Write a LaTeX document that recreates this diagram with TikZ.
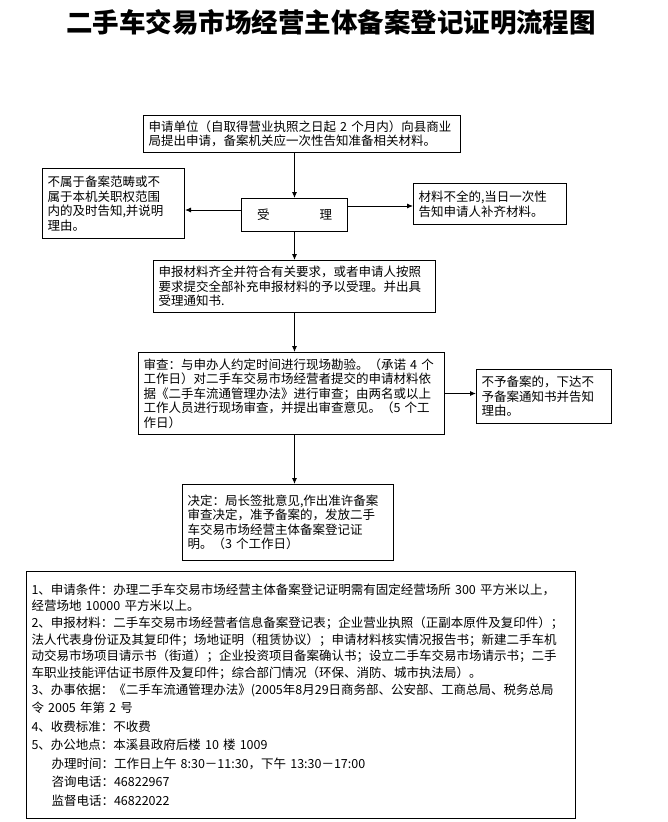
\documentclass[tikz,border=0pt]{standalone}
\usepackage{fontspec}
\setmainfont{Noto Sans CJK SC}
\usetikzlibrary{arrows.meta}

\begin{document}
\begin{tikzpicture}[x=1pt, y=-1pt, >={Latex[length=6pt,width=5pt]},
    box/.style={draw, line width=1pt, anchor=north west, align=left,
        inner xsep=5pt, inner ysep=4pt, font=\fontsize{12.5}{14.5}\selectfont},
    link/.style={->, line width=0.9pt}]
    \useasboundingbox (0,0) rectangle (668,822);

    \node[font=\fontsize{26.5}{29}\selectfont\bfseries] (title) at (331,22)
        {二手车交易市场经营主体备案登记证明流程图};

    % main steps
    \node[box, text width=307pt, minimum height=37pt] (apply) at (143,115)
        {申请单位（自取得营业执照之日起 2 个月内）向县商业\\局提出申请，备案机关应一次性告知准备相关材料。};
    \node[box, align=center, text width=96pt, minimum height=33pt] (accept) at (241,198)
        {受\hspace{50pt}理};
    \node[box, text width=272pt, minimum height=52pt] (materials) at (153,260)
        {申报材料齐全并符合有关要求，或者申请人按照\\要求提交全部补充申报材料的予以受理。并出具\\受理通知书.};
    \node[box, text width=296pt, minimum height=82pt] (review) at (138,352)
        {审查：与申办人约定时间进行现场勘验。（承诺 4 个\\工作日）对二手车交易市场经营者提交的申请材料依\\据《二手车流通管理办法》进行审查；由两名或以上\\工作人员进行现场审查，并提出审查意见。（5 个工\\作日）};
    \node[box, text width=201pt, minimum height=76pt] (decide) at (182,484)
        {决定：局长签批意见,作出准许备案\\审查决定，准予备案的，发放二手\\车交易市场经营主体备案登记证\\明。（3 个工作日）};

    % side results
    \node[box, text width=132pt, minimum height=70pt] (reject) at (42,168)
        {不属于备案范畴或不\\属于本机关职权范围\\内的及时告知,并说明\\理由。};
    \node[box, text width=143pt, minimum height=41pt] (incomplete) at (413,183)
        {材料不全的,当日一次性\\告知申请人补齐材料。};
    \node[box, text width=125pt, minimum height=54pt] (refuse) at (476,369)
        {不予备案的，下达不\\予备案通知书并告知\\理由。};

    \draw[link] (accept.north |- apply.south) -- (accept.north);
    \draw[link] ([yshift=5pt]accept.west) -- ([yshift=5pt]accept.west -| reject.east);
    \draw[link] ([yshift=9pt]accept.east) -- ([yshift=9pt]accept.east -| incomplete.west);
    \draw[link] (accept.south) -- (accept.south |- materials.north);
    \draw[link] (accept.south |- materials.south) -- (accept.south |- review.north);
    \draw[link] (review.east) -- (review.east -| refuse.west);
    \draw[link] (accept.south |- review.south) -- (accept.south |- decide.north);

    % notes
    \node[box, text width=539pt, minimum height=247pt,
        font=\fontsize{12.5}{16.6}\selectfont] (notes) at (26,571)
        {1、申请条件：办理二手车交易市场经营主体备案登记证明需有固定经营场所 300 平方米以上，\\
        经营场地 10000 平方米以上。\\
        2、申报材料：二手车交易市场经营者信息备案登记表；企业营业执照（正副本原件及复印件）；\\
        法人代表身份证及其复印件；场地证明（租赁协议）；申请材料核实情况报告书；新建二手车机\\
        动交易市场项目请示书（街道）；企业投资项目备案确认书；设立二手车交易市场请示书；二手\\
        车职业技能评估证书原件及复印件；综合部门情况（环保、消防、城市执法局）。\\[1pt]
        3、办事依据：《二手车流通管理办法》(2005年8月29日商务部、公安部、工商总局、税务总局\\[1pt]
        令 2005 年第 2 号\\[2pt]
        4、收费标准：不收费\\[2pt]
        5、办公地点：本溪县政府后楼 10 楼 1009\\[2pt]
        \hspace*{20pt}办理时间：工作日上午 8:30－11:30，下午 13:30－17:00\\[2pt]
        \hspace*{20pt}咨询电话：46822967\\[2pt]
        \hspace*{20pt}监督电话：46822022};
\end{tikzpicture}
\end{document}
